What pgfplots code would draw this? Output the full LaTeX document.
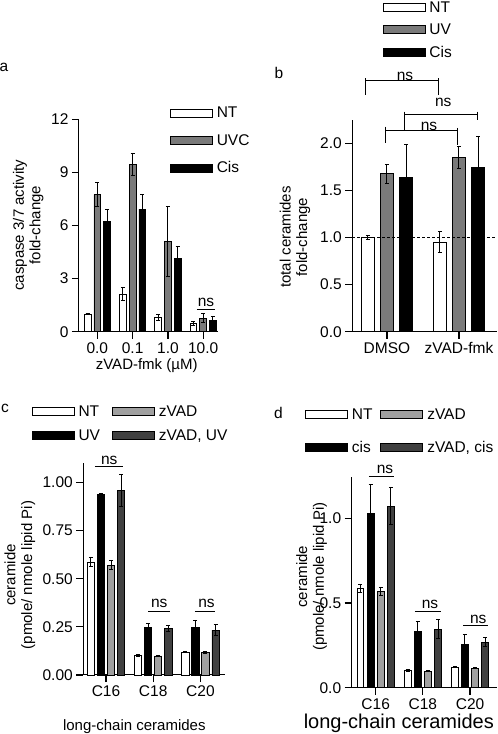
\documentclass[border=0pt]{standalone}
\usepackage{fontspec}
\setmainfont{Liberation Sans}
\usepackage{pgfplots}
\usepackage{pgfplotstable}
\pgfplotsset{compat=1.18}
\definecolor{gA}{HTML}{7A7A7A}
\definecolor{gL}{HTML}{A0A0A0}
\definecolor{gD}{HTML}{404040}

% ---------- data ----------
\pgfplotstableread{
x y e
0 1.00 0
1 2.13 0.36
2 0.79 0.17
3 0.47 0.11
}\aNT
\pgfplotstableread{
x y e
0 7.75 0.68
1 9.46 0.63
2 5.08 1.98
3 0.77 0.27
}\aUV
\pgfplotstableread{
x y e
0 6.22 0.70
1 6.92 0.85
2 4.16 0.68
3 0.62 0.23
}\aCis
\pgfplotstableread{
x y e
0 1.00 0.02
1 0.95 0.11
}\bNT
\pgfplotstableread{
x y e
0 1.68 0.10
1 1.85 0.12
}\bUV
\pgfplotstableread{
x y e
0 1.64 0.35
1 1.745 0.33
}\bCis
\pgfplotstableread{
x y e
0 0.587 0.022
1 0.102 0.004
2 0.120 0.004
}\cNT
\pgfplotstableread{
x y e
0 0.939 0.005
1 0.248 0.020
2 0.245 0.038
}\cUV
\pgfplotstableread{
x y e
0 0.571 0.022
1 0.099 0.004
2 0.116 0.004
}\cZ
\pgfplotstableread{
x y e
0 0.958 0.085
1 0.243 0.016
2 0.233 0.030
}\cZUV
\pgfplotstableread{
x y e
0 0.587 0.025
1 0.102 0.004
2 0.122 0.004
}\dNT
\pgfplotstableread{
x y e
0 1.030 0.170
1 0.333 0.060
2 0.256 0.060
}\dCis
\pgfplotstableread{
x y e
0 0.569 0.024
1 0.098 0.004
2 0.116 0.004
}\dZ
\pgfplotstableread{
x y e
0 1.071 0.110
1 0.346 0.055
2 0.268 0.026
}\dZCis

\newcommand{\fA}{\fontsize{15.5}{16.7}\selectfont}
\newcommand{\fL}{\fontsize{15}{16.7}\selectfont}

\pgfplotsset{
  myax/.style={
    scale only axis,
    anchor=south west,
    axis lines=left,
    axis line style={-, line width=1pt},
    tick align=outside,
    tickwidth=7pt,
    major tick length=7pt,
    tick style={black, line width=1.2pt},
    ticklabel style={font=\fA},
    /pgf/number format/assume math mode=true,
    clip=false,
    every axis y label/.style={rotate=90, anchor=center, font=\fL, align=center},
    every axis x label/.style={anchor=center, font=\fL},
    legend image code/.code={\draw[##1, line width=0.8pt] (0pt,-4pt) rectangle (42pt,4pt);},
    legend style={draw=none, fill=none, inner sep=0pt, outer sep=0pt, font=\fA,
      nodes={inner sep=0pt, text height=10pt, text depth=0pt}, anchor=north west},
    legend cell align=left,
  },
  mybar/.style={ybar, bar shift=0pt, draw=black, line width=0.8pt, forget plot,
    error bars/y dir=both, error bars/y explicit,
    error bars/error bar style={line width=1pt, black},
    error bars/error mark options={rotate=90, black, mark size=2pt, line width=1pt}},
}

\begin{document}
\begin{tikzpicture}
\useasboundingbox (0,0) rectangle (498pt,734pt);
\node[font=\fA] at (4pt,667pt) {a};
\node[font=\fA] at (279pt,661pt) {b};
\node[font=\fA] at (5pt,325.5pt) {c};
\node[font=\fA] at (278.5pt,321.5pt) {d};

% ---------------- panel a ----------------
\begin{axis}[myax,
  at={(79pt,402.3pt)}, width=139pt, height=212.4pt,
  xmin=-0.52, xmax=3.42, ymin=0, ymax=12,
  ytick={0,3,6,9,12},
  xtick={0,1,2,3}, xticklabels={0.0,0.1,1.0,10.0},
  xlabel={zVAD-fmk (µM)},
  xlabel style={at={(axis description cs:0.487,-0.161)}},
  ylabel={caspase 3/7 activity\\fold-change},
  ylabel style={at={(axis description cs:-0.365,0.502)}},
  legend style={at={(axis description cs:0.6547,1.0532)}, row sep=17.5pt,
    /tikz/every odd column/.style={column sep=4pt}},
]
\addplot[mybar, fill=white, bar width=6.8pt] table[x expr=\thisrow{x}-0.275,y=y,y error=e]{\aNT};
\addplot[mybar, fill=gA, bar width=6.8pt] table[x expr=\thisrow{x},y=y,y error=e]{\aUV};
\addplot[mybar, fill=black, bar width=6.8pt] table[x expr=\thisrow{x}+0.275,y=y,y error=e]{\aCis};
\addlegendimage{fill=white, draw=black}\addlegendentry{NT}
\addlegendimage{fill=gA, draw=black}\addlegendentry{UVC}
\addlegendimage{fill=black, draw=black}\addlegendentry{Cis}
\draw[line width=1pt] (axis cs:2.82,1.25) -- (axis cs:3.33,1.25);
\node[font=\fA, anchor=base, inner sep=0pt] at (axis cs:3.08,1.45) {ns};
\end{axis}

% ---------------- panel b ----------------
\begin{axis}[myax,
  at={(352.3pt,402.3pt)}, width=144.4pt, height=211.7pt,
  xmin=-0.482, xmax=1.524, ymin=0, ymax=2.25,
  ytick={0,0.5,1,1.5,2},
  yticklabel style={/pgf/number format/.cd, fixed, fixed zerofill, precision=1},
  xtick={0,1}, xticklabels={DMSO,zVAD-fmk},
  ylabel={total ceramides\\fold-change},
  ylabel style={at={(axis description cs:-0.397,0.447)}},
  legend style={at={(axis description cs:0.2105,1.557)}, row sep=12.5pt,
    /tikz/every odd column/.style={column sep=4pt}},
]
\addplot[mybar, fill=white, bar width=13.3pt] table[x expr=\thisrow{x}-0.2667,y=y,y error=e]{\bNT};
\addplot[mybar, fill=gA, bar width=13.3pt] table[x expr=\thisrow{x},y=y,y error=e]{\bUV};
\addplot[mybar, fill=black, bar width=13.3pt] table[x expr=\thisrow{x}+0.2667,y=y,y error=e]{\bCis};
\addplot[forget plot, black, line width=0.8pt, dash pattern=on 3pt off 2pt] coordinates {(-0.482,1) (1.524,1)};
\addlegendimage{fill=white, draw=black}\addlegendentry{NT}
\addlegendimage{fill=gA, draw=black}\addlegendentry{UV}
\addlegendimage{fill=black, draw=black}\addlegendentry{Cis}
% brackets
\draw[line width=1pt] (axis cs:-0.296,2.693) -- (axis cs:-0.296,2.515);
\draw[line width=1pt] (axis cs:-0.296,2.667) -- (axis cs:0.7125,2.667);
\draw[line width=1pt] (axis cs:0.7125,2.693) -- (axis cs:0.7125,2.515);
\node[font=\fA, anchor=base, inner sep=0pt] at (axis cs:0.25,2.667) {ns};
\draw[line width=1pt] (axis cs:0.25,2.338) -- (axis cs:0.25,2.143);
\draw[line width=1pt] (axis cs:0.25,2.313) -- (axis cs:1.26,2.313);
\draw[line width=1pt] (axis cs:1.26,2.338) -- (axis cs:1.26,2.25);
\node[font=\fA, anchor=base, inner sep=0pt] at (axis cs:0.782,2.39) {ns};
\draw[line width=1pt] (axis cs:-0.018,2.179) -- (axis cs:-0.018,2.002);
\draw[line width=1pt] (axis cs:-0.018,2.143) -- (axis cs:0.982,2.143);
\draw[line width=1pt] (axis cs:0.982,2.165) -- (axis cs:0.982,1.984);
\node[font=\fA, anchor=base, inner sep=0pt] at (axis cs:0.583,2.143) {ns};
\end{axis}

% ---------------- panel c ----------------
\begin{axis}[myax,
  at={(83.3pt,59pt)}, width=141.7pt, height=211.7pt,
  xmin=-0.48, xmax=2.52, ymin=0, ymax=1.1,
  ytick={0,0.25,0.5,0.75,1},
  yticklabel style={/pgf/number format/.cd, fixed, fixed zerofill, precision=2},
  xtick={0,1,2}, xticklabels={C16,C18,C20},
  xlabel={long-chain ceramides},
  xlabel style={at={(axis description cs:0.36,-0.244)}},
  ylabel={ceramide\\(pmole/ nmole lipid Pi)},
  ylabel style={at={(axis description cs:-0.447,0.472)}},
  legend columns=2,
  legend style={at={(axis description cs:-0.364,1.270)}, row sep=14.6pt,
    /tikz/every odd column/.style={column sep=4pt},
    /tikz/every even column/.style={column sep=12pt}},
]
\addplot[mybar, fill=white, bar width=7.3pt] table[x expr=\thisrow{x}-0.3203,y=y,y error=e]{\cNT};
\addplot[mybar, fill=black, bar width=7.3pt] table[x expr=\thisrow{x}-0.1068,y=y,y error=e]{\cUV};
\addplot[mybar, fill=gL, bar width=7.3pt] table[x expr=\thisrow{x}+0.1068,y=y,y error=e]{\cZ};
\addplot[mybar, fill=gD, bar width=7.3pt] table[x expr=\thisrow{x}+0.3203,y=y,y error=e]{\cZUV};
\addlegendimage{fill=white, draw=black}\addlegendentry{NT}
\addlegendimage{fill=gL, draw=black}\addlegendentry{zVAD}
\addlegendimage{fill=black, draw=black}\addlegendentry{UV}
\addlegendimage{fill=gD, draw=black}\addlegendentry{zVAD, UV}
\draw[line width=1pt] (axis cs:-0.233,1.085) -- (axis cs:0.366,1.085);
\node[font=\fA, anchor=base, inner sep=0pt] at (axis cs:0.07,1.095) {ns};
\draw[line width=1pt] (axis cs:0.894,0.33) -- (axis cs:1.353,0.33);
\node[font=\fA, anchor=base, inner sep=0pt] at (axis cs:1.127,0.349) {ns};
\draw[line width=1pt] (axis cs:1.88,0.33) -- (axis cs:2.30,0.33);
\node[font=\fA, anchor=base, inner sep=0pt] at (axis cs:2.127,0.349) {ns};
\end{axis}

% ---------------- panel d ----------------
\begin{axis}[myax,
  at={(351.7pt,46.3pt)}, width=145pt, height=211pt,
  xmin=-0.508, xmax=2.564, ymin=0, ymax=1.246,
  ytick={0,0.5,1},
  yticklabel style={/pgf/number format/.cd, fixed, fixed zerofill, precision=1},
  xtick={0,1,2}, xticklabels={C16,C18,C20},
  xlabel={long-chain ceramides},
  xlabel style={at={(axis description cs:0.325,-0.169)}, font=\fontsize{20}{22}\selectfont},
  ylabel={ceramide\\(pmole/ nmole lipid Pi)},
  ylabel style={at={(axis description cs:-0.276,0.526)}},
  legend columns=2,
  legend style={at={(axis description cs:-0.322,1.3175)}, row sep=22.5pt,
    /tikz/every odd column/.style={column sep=4pt},
    /tikz/every even column/.style={column sep=8pt}},
]
\addplot[mybar, fill=white, bar width=6.8pt] table[x expr=\thisrow{x}-0.322,y=y,y error=e]{\dNT};
\addplot[mybar, fill=black, bar width=6.8pt] table[x expr=\thisrow{x}-0.108,y=y,y error=e]{\dCis};
\addplot[mybar, fill=gL, bar width=6.8pt] table[x expr=\thisrow{x}+0.108,y=y,y error=e]{\dZ};
\addplot[mybar, fill=gD, bar width=6.8pt] table[x expr=\thisrow{x}+0.322,y=y,y error=e]{\dZCis};
\addlegendimage{fill=white, draw=black}\addlegendentry{NT}
\addlegendimage{fill=gL, draw=black}\addlegendentry{zVAD}
\addlegendimage{fill=black, draw=black}\addlegendentry{cis}
\addlegendimage{fill=gD, draw=black}\addlegendentry{zVAD, cis}
\draw[line width=1pt] (axis cs:-0.142,1.246) -- (axis cs:0.394,1.246);
\node[font=\fA, anchor=base, inner sep=0pt] at (axis cs:0.197,1.262) {ns};
\draw[line width=1pt] (axis cs:0.833,0.449) -- (axis cs:1.377,0.449);
\node[font=\fA, anchor=base, inner sep=0pt] at (axis cs:1.15,0.465) {ns};
\draw[line width=1pt] (axis cs:1.856,0.370) -- (axis cs:2.386,0.370);
\node[font=\fA, anchor=base, inner sep=0pt] at (axis cs:2.174,0.382) {ns};
\end{axis}
\end{tikzpicture}
\end{document}
